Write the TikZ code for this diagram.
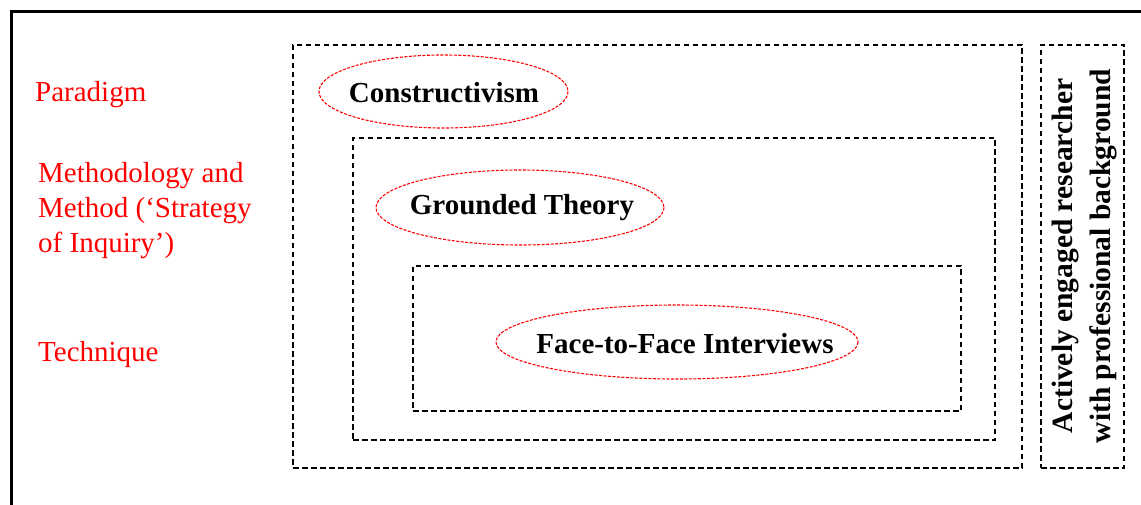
\documentclass[tikz,border=0pt]{standalone}
\usepackage{fontspec}
\setmainfont{Liberation Serif}
\begin{document}
\begin{tikzpicture}[x=1pt,y=-1pt,
  dbox/.style={draw=black, line width=1.3pt, dash pattern=on 5.5pt off 3.5pt, rectangle, inner sep=0pt},
  rell/.style={draw=red, line width=1.1pt, dash pattern=on 3pt off 1.5pt},
  etext/.style={inner sep=0pt, font=\fontsize{29}{34}\selectfont\bfseries},
  lbl/.style={text=red, font=\fontsize{29}{35}\selectfont, anchor=west, align=left, inner sep=0pt}]
\useasboundingbox (0,0) rectangle (1141,505);
\clip (0,0) rectangle (1141,505);
\draw[line width=3pt] (11,520) -- (11,12) -- (1160,12);
% dashed boxes
\node[dbox, minimum width=729pt, minimum height=423pt] (outerbox) at (657.5,256.5) {};
\node[dbox, minimum width=642pt, minimum height=302pt] (midbox) at (674,289) {};
\node[dbox, minimum width=548pt, minimum height=145pt] (innerbox) at (687,338.5) {};
\node[dbox, minimum width=83pt, minimum height=423pt] (rightbox) at (1082.5,256.5) {};
% ellipses
\node[etext] (constr) at (444,93) {Constructivism};
\draw[rell] (443.5,91.5) ellipse [x radius=124.5, y radius=36.5];
\node[etext] (grounded) at (522,208) {Grounded Theory};
\draw[rell] (520,207.5) ellipse [x radius=144, y radius=37.5];
\node[etext] (f2f) at (685,344) {Face-to-Face Interviews};
\draw[rell] (677,342) ellipse [x radius=181, y radius=37];
% labels
\node[lbl] (paradigm) at (35,95) {Paradigm};
\node[lbl] (method) at (38,211) {Methodology and\\Method (‘Strategy\\of Inquiry’)};
\node[lbl] (technique) at (38,355) {Technique};
% rotated text
\node[rotate=90, align=center, inner sep=0pt, font=\fontsize{29.5}{38}\selectfont\bfseries] (researcher) at (1085,256) {Actively engaged researcher\\with professional background};
\end{tikzpicture}
\end{document}
